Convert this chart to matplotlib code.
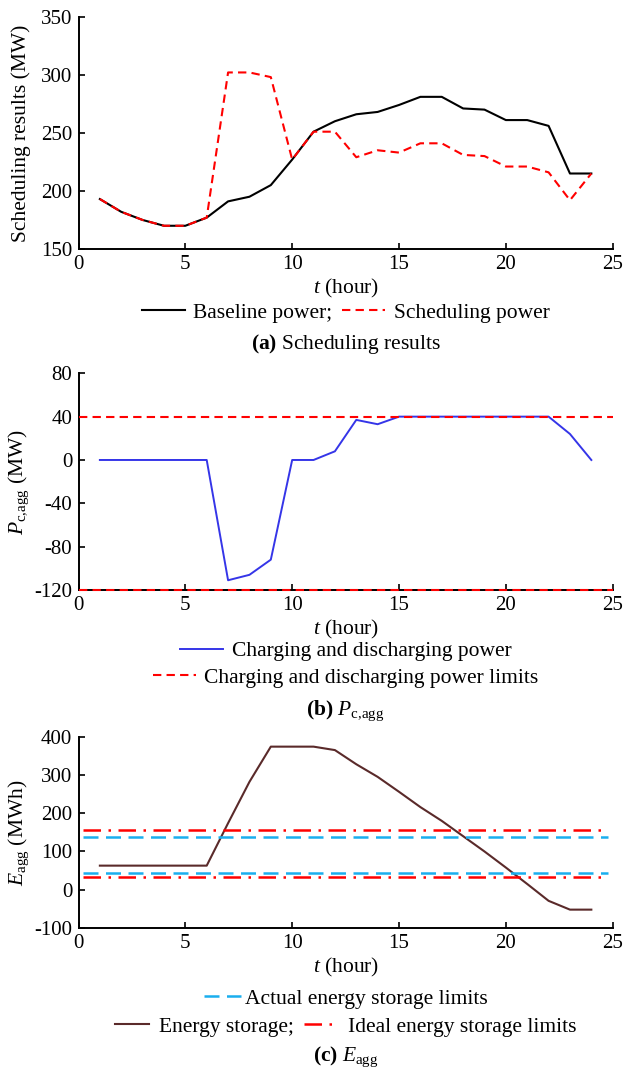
import matplotlib
matplotlib.use("Agg")
import matplotlib.pyplot as plt

plt.rcParams['font.family'] = ['Liberation Serif', 'DejaVu Serif']
plt.rcParams['mathtext.fontset'] = 'custom'
plt.rcParams['mathtext.rm'] = 'Liberation Serif'
plt.rcParams['mathtext.it'] = 'Liberation Serif:italic'
plt.rcParams['mathtext.bf'] = 'Liberation Serif:bold'
plt.rcParams['axes.unicode_minus'] = False

# ---------------- data ----------------
hours = list(range(1, 25))
baseline_power = [193, 182, 175, 170, 170, 177, 191, 195, 205, 227, 251, 260,
                  266, 268, 274, 281, 281, 271, 270, 261, 261, 256, 215, 215]
scheduling_power = [193, 182, 175, 170, 170, 177, 302, 302, 298, 227, 251, 251,
                    229, 235, 233, 241, 241, 231, 230, 221, 221, 216, 192, 215]
charge_power = [0, 0, 0, 0, 0, 0, -111, -106, -92, 0, 0, 8,
                37, 33, 40, 40, 40, 40, 40, 40, 40, 40, 24, 0]
power_limits = [40, -120]
energy_storage = [63, 63, 63, 63, 63, 63, 174, 282, 374, 374, 374, 365,
                  328, 295, 256, 216, 180, 140, 100, 58, 15, -29, -52, -52]
actual_limits = [139, 45]
ideal_limits = [155, 32]
limit_x = [0.2, 24.8]

xticks = [0, 5, 10, 15, 20, 25]
yticks_a = [150, 200, 250, 300, 350]
yticks_b = [-120, -80, -40, 0, 40, 80]
yticks_c = [-100, 0, 100, 200, 300, 400]

FS_T = 15      # tick labels
FS = 15.5      # labels, legends, captions
W, H = 638, 1069
fig = plt.figure(figsize=(W / 100, H / 100), dpi=100)

left = 78.5 / W
width = (612.7 - 78.5) / W

def make_ax(top_px, bot_px):
    return fig.add_axes([left, 1 - bot_px / H, width, (bot_px - top_px) / H])

def style(ax, yticks, ylabel):
    for s in ['top', 'right']:
        ax.spines[s].set_visible(False)
    for s in ['left', 'bottom']:
        ax.spines[s].set_linewidth(1.4)
    ax.set_xlim(0, 25)
    ax.set_xticks(xticks)
    ax.set_yticks(yticks)
    ax.set_ylim(yticks[0], yticks[-1])
    ax.tick_params(direction='in', length=4, width=1.2, labelsize=FS_T, pad=4.5)
    ax.set_xlabel(r'$t$ (hour)', fontsize=FS, labelpad=2)
    ax.set_ylabel(ylabel, fontsize=FS)
    ax.yaxis.set_label_coords(-0.088, 0.5)

leg_kw = dict(frameon=False, fontsize=FS, handlelength=2.0, handletextpad=0.4,
              columnspacing=0.45, borderpad=0.2)

# ---------------- panel a ----------------
ax1 = make_ax(16.7, 249)
l1, = ax1.plot(hours, baseline_power, color='black', lw=1.5, label='Baseline power;')
l2, = ax1.plot(hours, scheduling_power, color='#FF0000', lw=1.5, ls=(0, (4, 2.5)),
               label='Scheduling power')
style(ax1, yticks_a, 'Scheduling results (MW)')
ax1.legend(handles=[l1, l2], ncol=2, loc='center', bbox_to_anchor=(0.5, -0.275), **leg_kw)
ax1.text(0.5, -0.41, r'$\mathbf{(a)}$ Scheduling results', transform=ax1.transAxes,
         ha='center', va='center', fontsize=FS)

# ---------------- panel b ----------------
ax2 = make_ax(373.3, 590)
l3, = ax2.plot(hours, charge_power, color='#3535E8', lw=1.4,
               label='Charging and discharging power')
for v in power_limits:
    l4, = ax2.plot([0, 25], [v, v], color='#FF0000', lw=1.5, ls=(0, (4, 2.5)),
                   clip_on=False, zorder=5, label='Charging and discharging power limits')
style(ax2, yticks_b, r'$P_{\mathrm{c{,}agg}}$ (MW)')
lg = ax2.legend(handles=[l3], loc='center', bbox_to_anchor=(0.5, -0.283), **leg_kw)
ax2.add_artist(lg)
ax2.legend(handles=[l4], loc='center', bbox_to_anchor=(0.5, -0.405), **leg_kw)
ax2.text(0.5, -0.555, r'$\mathbf{(b)}\ P_{\mathrm{c{,}agg}}$', transform=ax2.transAxes,
         ha='center', va='center', fontsize=FS)

# ---------------- panel c ----------------
ax3 = make_ax(736.7, 928)
l5, = ax3.plot(hours, energy_storage, color='#5A2A2A', lw=1.5, label='Energy storage;')
for v in actual_limits:
    l6, = ax3.plot(limit_x, [v, v], color='#1AAEEE', lw=1.8, ls=(0, (6, 3)),
                   label='Actual energy storage limits')
for v in ideal_limits:
    l7, = ax3.plot(limit_x, [v, v], color='#FF0000', lw=1.8, ls=(0, (7, 3, 1, 3)),
                   label='Ideal energy storage limits')
style(ax3, yticks_c, r'$E_{\mathrm{agg}}$ (MWh)')
kw_act = dict(leg_kw, handlelength=1.75, handletextpad=0.15)
lg = ax3.legend(handles=[l6], loc='center', bbox_to_anchor=(0.5, -0.37), **kw_act)
ax3.add_artist(lg)
ax3.legend(handles=[l5, l7], ncol=2, loc='center', bbox_to_anchor=(0.5, -0.515),
           **dict(leg_kw, handlelength=1.6, handletextpad=0.45))
ax3.text(0.5, -0.675, r'$\mathbf{(c)}\ E_{\mathrm{agg}}$', transform=ax3.transAxes,
         ha='center', va='center', fontsize=FS)

fig.savefig('out.png', dpi=100)
